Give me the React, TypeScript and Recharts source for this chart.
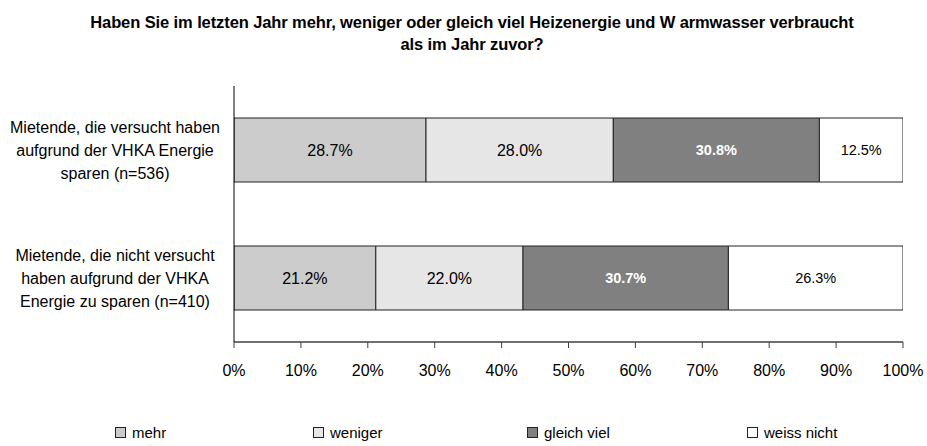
import React from "react";
import { BarChart, Bar, XAxis, YAxis, LabelList } from "recharts";

const categories = [
  "Mietende, die versucht haben aufgrund der VHKA Energie sparen (n=536)",
  "Mietende, die nicht versucht haben aufgrund der VHKA Energie zu sparen (n=410)",
];
const categoryLines = [
  ["Mietende, die versucht haben", "aufgrund der VHKA Energie", "sparen (n=536)"],
  ["Mietende, die nicht versucht", "haben aufgrund der VHKA", "Energie zu sparen (n=410)"],
];
const mehr = [28.7, 21.2];
const weniger = [28.0, 22.0];
const gleichViel = [30.8, 30.7];
const weissNicht = [12.5, 26.3];
const xTicks = [0, 10, 20, 30, 40, 50, 60, 70, 80, 90, 100];
const titleLines = [
  "Haben Sie im letzten Jahr mehr, weniger oder gleich viel Heizenergie und W armwasser verbraucht",
  "als im Jahr zuvor?",
];

const series = [
  { key: "mehr", name: "mehr", color: "#cccccc", labelColor: "#000", labelWeight: 400, labelSize: 16 },
  { key: "weniger", name: "weniger", color: "#e6e6e6", labelColor: "#000", labelWeight: 400, labelSize: 16 },
  { key: "gleichViel", name: "gleich viel", color: "#808080", labelColor: "#ffffff", labelWeight: 700, labelSize: 14.5 },
  { key: "weissNicht", name: "weiss nicht", color: "#ffffff", labelColor: "#000", labelWeight: 400, labelSize: 14.5 },
];

const data = categories.map((c, i) => ({
  category: c,
  mehr: mehr[i],
  weniger: weniger[i],
  gleichViel: gleichViel[i],
  weissNicht: weissNicht[i],
}));

const FONT = "'Liberation Sans', Arial, sans-serif";

const CategoryTick = (props: any) => {
  const { y, payload } = props;
  const idx = categories.indexOf(payload.value);
  const lines = categoryLines[idx] || [payload.value];
  const lh = 23;
  const startY = y - ((lines.length - 1) * lh) / 2;
  return (
    <text x={115} y={startY} textAnchor="middle" fontFamily={FONT} fontSize={16} fill="#000">
      {lines.map((l, i) => (
        <tspan key={i} x={115} y={startY + i * lh} dy="0.35em">
          {l}
        </tspan>
      ))}
    </text>
  );
};

const legendX = [115, 313, 527, 747];

const LegendBlock = () => (
  <div style={{ position: "absolute", left: 0, top: 424, width: 927, height: 20 }}>
    {series.map((s, i) => (
      <div
        key={s.key}
        style={{
          position: "absolute",
          left: legendX[i],
          top: 0,
          display: "flex",
          alignItems: "center",
          fontFamily: FONT,
          fontSize: 15,
          color: "#000",
          whiteSpace: "nowrap",
        }}
      >
        <span
          style={{
            display: "inline-block",
            width: 9,
            height: 9,
            background: s.color,
            border: "1px solid #222",
            marginRight: 6,
          }}
        />
        {s.name}
      </div>
    ))}
  </div>
);

export default function App() {
  return (
    <div style={{ position: "absolute", left: 0, top: 0, width: 927, height: 446, background: "#fff" }}>
      <div
        style={{
          position: "absolute",
          left: 0,
          top: 11,
          width: 944,
          textAlign: "center",
          fontFamily: FONT,
          fontWeight: 700,
          fontSize: 16.5,
          lineHeight: "22px",
          color: "#000",
          letterSpacing: -0.1,
        }}
      >
        <div>{titleLines[0]}</div>
        <div>{titleLines[1]}</div>
      </div>
      <BarChart
        width={927}
        height={446}
        data={data}
        layout="vertical"
        margin={{ top: 86, right: 24, bottom: 74, left: 10 }}
        barCategoryGap="25%"
        style={{ fontFamily: FONT }}
      >
        <XAxis
          type="number"
          domain={[0, 100]}
          ticks={xTicks}
          allowDataOverflow
          tickFormatter={(v: number) => `${v}%`}
          axisLine={{ stroke: "#404040", strokeWidth: 1.5 }}
          tickLine={{ stroke: "#404040" }}
          tickSize={6}
          tickMargin={17}
          tick={{ fill: "#000", fontSize: 16, fontFamily: FONT }}
          interval={0}
          height={30}
        />
        <YAxis
          type="category"
          dataKey="category"
          width={224}
          axisLine={{ stroke: "#000" }}
          tickLine={false}
          tick={<CategoryTick />}
          interval={0}
        />
        {series.map((s) => (
          <Bar
            key={s.key}
            dataKey={s.key}
            name={s.name}
            stackId="a"
            fill={s.color}
            stroke="#222"
            strokeWidth={1}
            isAnimationActive={false}
          >
            <LabelList
              dataKey={s.key}
              position="center"
              formatter={(v: any) => `${Number(v).toFixed(1)}%`}
              fill={s.labelColor}
              fontSize={s.labelSize}
              fontWeight={s.labelWeight}
              fontFamily={FONT}
            />
          </Bar>
        ))}
      </BarChart>
      <LegendBlock />
    </div>
  );
}
